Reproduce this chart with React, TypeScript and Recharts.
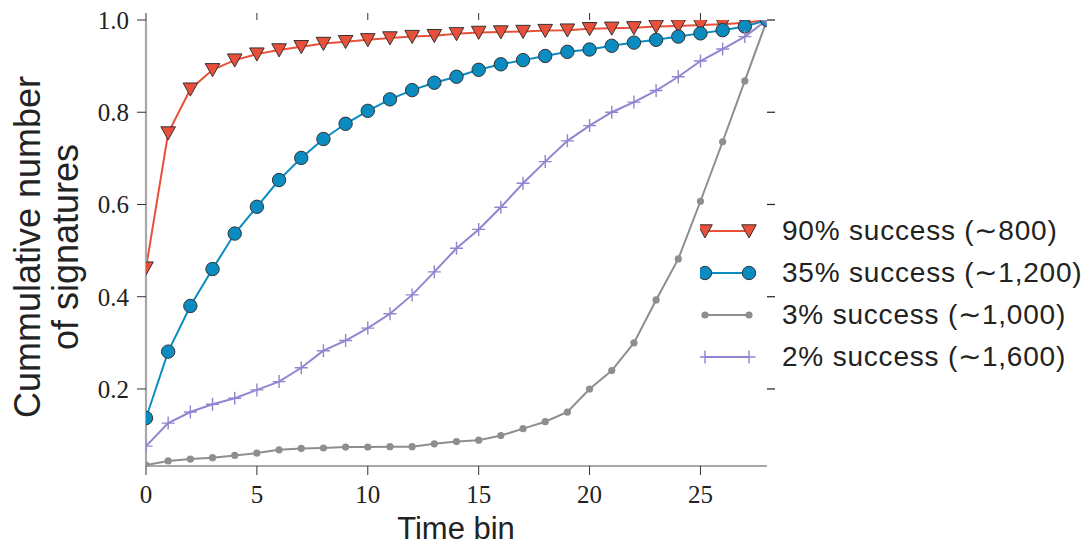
import React from 'react';
import { LineChart, Line, XAxis, YAxis, Legend } from 'recharts';

const timeBins = [0, 1, 2, 3, 4, 5, 6, 7, 8, 9, 10, 11, 12, 13, 14, 15, 16, 17, 18, 19, 20, 21, 22, 23, 24, 25, 26, 27, 28];

const success90 = [0.462, 0.755, 0.85, 0.892, 0.913, 0.926, 0.935, 0.942, 0.949, 0.953, 0.957, 0.961, 0.964, 0.966, 0.97, 0.973, 0.974, 0.975, 0.977, 0.978, 0.981, 0.982, 0.983, 0.986, 0.987, 0.989, 0.991, 0.994, 1.0];
const success35 = [0.137, 0.281, 0.38, 0.46, 0.537, 0.595, 0.653, 0.701, 0.742, 0.775, 0.803, 0.828, 0.848, 0.864, 0.877, 0.892, 0.904, 0.913, 0.922, 0.931, 0.936, 0.944, 0.951, 0.957, 0.964, 0.971, 0.978, 0.986, 1.0];
const success3 = [0.035, 0.044, 0.048, 0.051, 0.056, 0.061, 0.068, 0.071, 0.072, 0.074, 0.074, 0.075, 0.075, 0.081, 0.086, 0.089, 0.099, 0.114, 0.129, 0.15, 0.2, 0.24, 0.3, 0.393, 0.482, 0.607, 0.736, 0.868, 1.0];
const success2 = [0.076, 0.126, 0.15, 0.167, 0.18, 0.198, 0.216, 0.246, 0.283, 0.305, 0.332, 0.363, 0.404, 0.454, 0.505, 0.546, 0.594, 0.646, 0.693, 0.738, 0.771, 0.8, 0.822, 0.847, 0.877, 0.911, 0.937, 0.964, 1.0];

const xTicks = [0, 5, 10, 15, 20, 25];
const yTicks = [0.2, 0.4, 0.6, 0.8, 1.0];

const seriesNames = ['90% success (\u223C800)', '35% success (\u223C1,200)', '3% success (\u223C1,000)', '2% success (\u223C1,600)'];
const seriesKeys = ['s90', 's35', 's3', 's2'];
const seriesColors = ['#E8503A', '#0B8CC1', '#8E8E8E', '#9185CF'];
const seriesMarkers = ['tri', 'circle', 'dot', 'plus'];
const seriesAxis = ['left', 'left', 'left', 'right'];

const data = timeBins.map((t, i) => ({
  t,
  s90: success90[i],
  s35: success35[i],
  s3: success3[i],
  s2: success2[i],
}));

const EDGE = '#333333';
const Y_DOMAIN: [number, number] = [0.033, 1.0];

function renderMarker(kind: string, color: string, cx: number, cy: number, key?: any) {
  if (cx == null || cy == null) return <g key={key} />;
  if (kind === 'tri') {
    const h = 7.3;
    return (
      <path
        key={key}
        d={`M${cx - h},${cy - h * 0.85} L${cx + h},${cy - h * 0.85} L${cx},${cy + h * 0.95} Z`}
        fill={color}
        stroke={EDGE}
        strokeWidth={1}
      />
    );
  }
  if (kind === 'circle') {
    return <circle key={key} cx={cx} cy={cy} r={6.7} fill={color} stroke={EDGE} strokeWidth={1} />;
  }
  if (kind === 'dot') {
    return <circle key={key} cx={cx} cy={cy} r={3.6} fill={color} stroke="none" />;
  }
  return (
    <path
      key={key}
      d={`M${cx - 6.5},${cy} L${cx + 6.5},${cy} M${cx},${cy - 6.5} L${cx},${cy + 6.5}`}
      stroke={color}
      strokeWidth={1.4}
      fill="none"
    />
  );
}

const LegendContent = () => (
  <div style={{ fontFamily: '"Liberation Sans", Arial, sans-serif', fontSize: 28, letterSpacing: 0.8, color: '#222' }}>
    {seriesKeys.map((k, i) => (
      <div key={k} style={{ display: 'flex', alignItems: 'center', height: 42 }}>
        <svg width={82} height={42} style={{ display: 'block' }}>
          <line x1={5} y1={21} x2={49} y2={21} stroke={seriesColors[i]} strokeWidth={2} />
          {renderMarker(seriesMarkers[i], seriesColors[i], 5, 21, 'a')}
          {renderMarker(seriesMarkers[i], seriesColors[i], 49, 21, 'b')}
        </svg>
        <span style={{ whiteSpace: 'nowrap', lineHeight: '42px' }}>{seriesNames[i]}</span>
      </div>
    ))}
  </div>
);

const EmptyTick = () => <g />;

export default function App() {
  return (
    <div style={{ position: 'absolute', left: 0, top: 0, width: 1083, height: 545, background: '#fff' }}>
      <LineChart
        width={1083}
        height={545}
        data={data}
        margin={{ top: 10, right: 306, bottom: 0, left: 0 }}
      >
        <XAxis
          dataKey="t"
          type="number"
          domain={[0, 28]}
          allowDataOverflow
          ticks={xTicks}
          height={79}
          tickSize={9}
          tickMargin={10}
          axisLine={{ stroke: '#A8A8A8', strokeWidth: 2.2 }}
          tickLine={{ stroke: '#333', strokeWidth: 1 }}
          tick={{ fontFamily: '"Liberation Serif", "Times New Roman", serif', fontSize: 25, fill: '#222' }}
          label={{
            content: () => (
              <text x={456} y={539} textAnchor="middle" fontFamily='"Liberation Sans", Arial, sans-serif' fontSize={31} fill="#222">
                Time bin
              </text>
            ),
          }}
        />
        <XAxis
          xAxisId="top"
          orientation="top"
          dataKey="t"
          type="number"
          domain={[0, 28]}
          ticks={xTicks}
          height={10}
          tickSize={7}
          axisLine={false}
          tick={<EmptyTick />}
          tickLine={{ stroke: '#333', strokeWidth: 1 }}
        />
        <YAxis
          yAxisId="left"
          type="number"
          domain={Y_DOMAIN}
          allowDataOverflow
          ticks={yTicks}
          width={146}
          tickSize={9}
          tickMargin={8}
          tickFormatter={(v: number) => v.toFixed(1)}
          axisLine={{ stroke: '#A8A8A8', strokeWidth: 2.2 }}
          tickLine={{ stroke: '#333', strokeWidth: 1 }}
          tick={{ fontFamily: '"Liberation Serif", "Times New Roman", serif', fontSize: 25, fill: '#222' }}
          label={{
            content: () => (
              <g>
                <text
                  transform="translate(40,247) rotate(-90)"
                  textAnchor="middle"
                  fontFamily='"Liberation Sans", Arial, sans-serif'
                  fontSize={36}
                  fill="#222"
                >
                  Cummulative number
                </text>
                <text
                  transform="translate(78,247) rotate(-90)"
                  textAnchor="middle"
                  fontFamily='"Liberation Sans", Arial, sans-serif'
                  fontSize={36}
                  fill="#222"
                >
                  of signatures
                </text>
              </g>
            ),
          }}
        />
        <YAxis
          yAxisId="right"
          orientation="right"
          type="number"
          domain={Y_DOMAIN}
          allowDataOverflow
          ticks={yTicks}
          width={10}
          tickSize={8}
          axisLine={false}
          tick={<EmptyTick />}
          tickLine={{ stroke: '#222', strokeWidth: 1.2 }}
        />
        <Legend
          layout="vertical"
          align="center"
          verticalAlign="middle"
          content={<LegendContent />}
          wrapperStyle={{ left: 700, top: 210, width: 383, height: 170 }}
        />
        {seriesKeys.map((k, i) => (
          <Line
            key={k}
            yAxisId={seriesAxis[i]}
            dataKey={k}
            name={seriesNames[i]}
            type="linear"
            stroke={seriesColors[i]}
            strokeWidth={2}
            isAnimationActive={false}
            dot={(p: any) => renderMarker(seriesMarkers[i], seriesColors[i], p.cx, p.cy, `${k}-${p.index}`)}
            activeDot={false}
          />
        ))}
      </LineChart>
    </div>
  );
}
